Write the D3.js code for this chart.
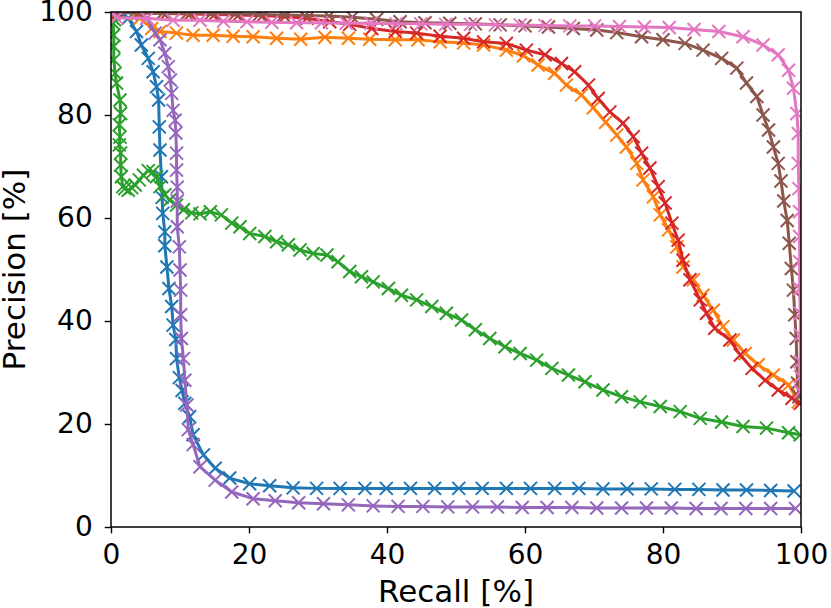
<!DOCTYPE html>
<html>
<head>
<meta charset="utf-8">
<script src="https://cdn.jsdelivr.net/npm/d3@7"></script>
<style>
body{margin:0;background:#fff;}
svg text{font-family:"DejaVu Sans",sans-serif;fill:#000;}
</style>
</head>
<body>
<script>
// data: [recall %, precision %] per curve
var blueP=[[1.8,99.5],[2.5,98.8],[3.7,96.2],[4.4,93.6],[5.4,91],[6.1,88.4],[6.6,85.5],[6.9,82.9],[7.0,77.7],[7.1,73.2],[7.3,68],[7.4,64],[7.5,60.9],[7.8,57.3],[7.8,54.6],[8.1,50.5],[8.4,46.3],[8.8,42.8],[9.0,39.2],[9.4,36.4],[9.5,32.7],[9.9,29],[10.3,26.5],[10.7,24],[11.4,21.4],[11.9,17.9],[13.4,14],[15.1,11.4],[17.2,9.5],[20.1,8.4],[23.0,8.0],[26.4,7.6],[29.8,7.5],[33.2,7.5],[36.8,7.5],[39.9,7.5],[43.4,7.5],[46.9,7.5],[50.4,7.5],[53.8,7.5],[57.3,7.5],[60.8,7.5],[64.3,7.5],[67.8,7.5],[71.3,7.4],[74.8,7.4],[78.3,7.4],[81.7,7.3],[85.2,7.3],[88.7,7.2],[92.1,7.2],[95.6,7.1],[99.0,7.0]];
var orangeP=[[3.5,99.6],[4.2,98.8],[5.9,96.8],[7.1,96.2],[9.5,95.9],[11.9,95.5],[14.8,95.5],[17.7,95.3],[20.6,95.2],[24.0,94.9],[27.5,94.7],[31,95.1],[34.4,94.9],[37.5,94.7],[41.2,94.6],[44.5,94.6],[47.7,94.2],[51.1,94.0],[54.0,93.6],[57.3,92.6],[59.8,91.5],[61.9,89.7],[64.3,88.1],[66.0,85.8],[68.2,83.9],[69.9,81.4],[71.7,78.6],[73.3,76.1],[74.7,73.8],[76.2,70.6],[77.1,67.4],[78.6,64.1],[79.6,60.6],[80.8,57.7],[82,54.4],[82.9,50.5],[84.4,48],[85.8,45],[87.3,42.1],[88.7,38.9],[90.2,36.3],[91.9,33.7],[93.8,31.5],[96,29.5],[98.2,27.6],[99.6,24.3]];
var greenP=[[0.5,98.5],[0.3,97.8],[0.4,95.5],[0.4,93.3],[0.4,90.7],[0.6,88.1],[0.8,86.2],[1.3,82.9],[1.4,80.3],[1.2,78.1],[1.3,75.7],[1.2,74.2],[1.4,72.6],[1.4,70.3],[1.5,68.0],[1.7,66.1],[2.0,65.7],[2.5,65.4],[3.0,65.9],[3.5,66.4],[4.1,67.4],[4.7,68.3],[5.4,69.2],[6.1,69],[6.6,68],[7.1,66.1],[7.8,64.5],[8.5,63.5],[9.5,62.5],[10.5,61.6],[11.7,61.0],[12.9,60.8],[14.4,61.2],[16.0,60.6],[17.5,59],[18.7,58.3],[20.1,57],[22.3,56.4],[24.0,55.4],[25.7,54.8],[27.4,53.8],[29.3,53.1],[31.3,52.8],[32.9,51.5],[34.6,49.6],[36.3,48.6],[38.0,47.6],[40.2,46.3],[42.1,45],[44.3,44.1],[46.5,42.8],[48.6,41.5],[50.8,40.2],[52.8,38.3],[54.9,36.6],[57.1,35],[59.3,33.7],[61.7,32.4],[63.9,30.8],[66.3,29.5],[68.7,28.2],[71.3,26.6],[74.0,25.3],[76.7,24.3],[79.6,23.4],[82.5,22.4],[85.4,21.1],[88.5,20.4],[91.6,19.5],[95.0,19.2],[98.2,18.3],[99.9,17.9]];
var redP=[[1,99.9],[4.5,99.8],[8,99.7],[11.5,99.6],[15,99.5],[18.5,99.4],[22,99.3],[25.2,99.1],[28.4,98.8],[31.7,98.1],[34.6,97.6],[37.8,96.8],[41.2,96.2],[44.3,95.9],[47.7,95.3],[51.1,94.9],[54,94.2],[57.3,93.9],[60.2,92.6],[62.9,91.7],[65.3,90],[67.2,88.4],[69.2,85.8],[70.6,83.2],[72.3,80.6],[74.2,78.4],[75.7,75.8],[76.9,72.6],[78.1,69.7],[79.3,66.1],[80.3,62.9],[81.3,59],[82.2,55.7],[82.9,51.8],[83.9,48],[85.4,44.1],[86.3,41.5],[87.5,38.6],[89.7,36.3],[91.2,33.4],[92.9,30.8],[94.8,28.5],[96.7,26.6],[98.7,25.0],[99.9,24.0]];
var purpleP=[[4.5,99.6],[5.2,98.8],[6.4,95.9],[7.1,94.6],[7.8,92],[8.3,89.4],[8.6,86.8],[8.8,84.2],[9.0,80.9],[9.3,79],[9.4,76.5],[9.5,72.6],[9.5,69.3],[9.6,66],[9.6,63.3],[9.6,58.3],[9.9,54.4],[10,49.9],[10.1,46],[10.1,41.2],[10.2,36.6],[10.5,32.7],[10.7,28.5],[11.0,23.7],[11.2,18.9],[11.9,16],[12.9,11.7],[15.1,9.1],[17.5,6.8],[20.6,5.5],[23.8,5.1],[27.2,4.7],[30.8,4.5],[34.4,4.3],[38,4.1],[41.6,4.0],[45.2,4.0],[48.8,3.9],[52.4,3.9],[56.0,3.9],[59.6,3.8],[63.2,3.8],[66.8,3.8],[70.4,3.7],[74.0,3.7],[77.6,3.7],[81.2,3.7],[84.8,3.6],[88.4,3.6],[92.0,3.6],[95.6,3.6],[99.2,3.6]];
var brownP=[[0.5,99.9],[4,99.8],[7.5,99.8],[11,99.7],[14.5,99.7],[18,99.6],[21.5,99.5],[25,99.4],[28.1,99.3],[31.6,99.2],[35,99.0],[38.5,98.6],[41.9,98.1],[45.5,97.9],[49.1,97.8],[52.8,97.7],[56.4,97.5],[60,97.3],[63.4,97.1],[67,96.8],[70.4,96.5],[73.3,96],[76.9,95.2],[80.0,94.6],[83.2,93.9],[85.8,92.6],[88.5,91],[90.7,89.1],[92.1,86.2],[93.6,83.6],[94.5,80],[95.3,77.1],[96.0,73.8],[96.7,70.6],[97.1,67.2],[97.5,63.3],[98.0,59.5],[98.3,55.1],[98.6,50.2],[98.9,46],[99.1,41.2],[99.3,36.6],[99.4,32.1],[99.5,27.9],[99.7,25.3]];
var pinkP=[[0.3,99.8],[0.8,98.9],[5.2,98.8],[9.0,98.4],[12.9,98.4],[16.3,98.2],[19.7,98.1],[23.3,98.0],[26.9,97.9],[30.5,97.9],[34.1,97.8],[37.7,97.8],[41.3,97.7],[44.9,97.7],[48.5,97.6],[52.1,97.6],[55.7,97.5],[59.3,97.5],[62.9,97.4],[66.5,97.3],[70.1,97.3],[73.7,97.2],[77.3,97.1],[80.9,97.0],[84.5,96.6],[88.1,96.2],[91.6,95.2],[94.5,93.6],[96.7,91.7],[98.2,88.7],[98.9,85.2],[99.4,80.3],[99.6,76.4],[99.6,70.6],[99.7,65.7],[99.8,61.2],[99.8,56.4],[99.8,51.5],[99.8,46.3],[99.9,41.5],[99.9,37.3],[99.9,32.1],[99.9,29.2],[99.9,26.3]];
var xticks=[0,20,40,60,80,100];
var yticks=[0,20,40,60,80,100];
var xlab='Recall [%]', ylab='Precision [%]';
// styles
var wid=831, hgh=608;
var mgn={l:111,r:30,t:12,b:81};
var colors=['#1f77b4','#ff7f0e','#2ca02c','#d62728','#9467bd','#8c564b','#e377c2'];
var series=[blueP,orangeP,greenP,redP,purpleP,brownP,pinkP];
var lnw=3, mks=6.5, mkw=2; // line width, marker half size, marker stroke
var tcksiz=28, labsiz=31;

var svg=d3.select('body').append('svg').attr('width',wid).attr('height',hgh);
var x=d3.scaleLinear().domain([0,100]).range([mgn.l,wid-mgn.r]);
var y=d3.scaleLinear().domain([0,100]).range([hgh-mgn.b,mgn.t]);

svg.append('clipPath').attr('id','plotclip').append('rect')
  .attr('x',x(0)).attr('y',y(100)).attr('width',x(100)-x(0)).attr('height',y(0)-y(100));

var plot=svg.append('g').attr('clip-path','url(#plotclip)');
var line=d3.line().x(function (d) {return x(d[0]);}).y(function (d) {return y(d[1]);});
var xmark='M'+(-mks)+','+(-mks)+'L'+mks+','+mks+'M'+(-mks)+','+mks+'L'+mks+','+(-mks);

series.forEach(function (s,i) {
  var g=plot.append('g');
  g.append('path').datum(s).attr('d',line)
    .attr('fill','none').attr('stroke',colors[i]).attr('stroke-width',lnw).attr('stroke-linejoin','round');
  g.selectAll('path.mk').data(s).enter().append('path').attr('class','mk')
    .attr('d',xmark)
    .attr('transform',function (d) {return 'translate('+x(d[0])+','+y(d[1])+')';})
    .attr('fill','none').attr('stroke',colors[i]).attr('stroke-width',mkw);
});

// axes
var xax=svg.append('g').attr('transform','translate(0,'+y(0)+')')
  .call(d3.axisBottom(x).tickValues(xticks).tickSize(6.3).tickPadding(11).tickSizeOuter(0));
var yax=svg.append('g').attr('transform','translate('+x(0)+',0)')
  .call(d3.axisLeft(y).tickValues(yticks).tickSize(6.3).tickPadding(12).tickSizeOuter(0));
[xax,yax].forEach(function (a) {
  a.select('.domain').remove();
  a.selectAll('line').attr('stroke','#000').attr('stroke-width',1.4);
  a.selectAll('text').attr('font-size',tcksiz).attr('font-family','"DejaVu Sans",sans-serif').attr('fill','#000');
});

// frame (spines)
svg.append('rect').attr('x',x(0)).attr('y',y(100)).attr('width',x(100)-x(0)).attr('height',y(0)-y(100))
  .attr('fill','none').attr('stroke','#000').attr('stroke-width',1.5);

svg.append('text').attr('x',(x(0)+x(100))/2).attr('y',602).attr('text-anchor','middle')
  .attr('font-size',labsiz).text(xlab);
svg.append('text').attr('transform','translate(25,'+((y(0)+y(100))/2)+') rotate(-90)')
  .attr('text-anchor','middle').attr('font-size',labsiz).text(ylab);
</script>
</body>
</html>
